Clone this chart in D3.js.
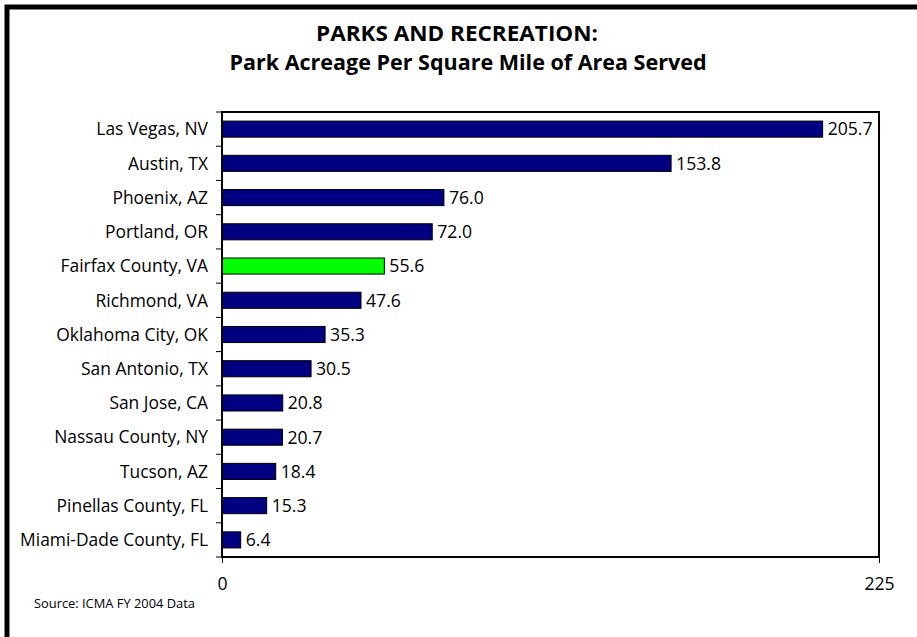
<!DOCTYPE html>
<html>
<head>
<meta charset="utf-8">
<script src="https://cdn.jsdelivr.net/npm/d3@7"></script>
<style>
  html, body { margin: 0; padding: 0; background: #fff; }
  svg { display: block; }
  text { font-family: "Open Sans", Lato, sans-serif; fill: #000; }
</style>
</head>
<body>
<script>
const categories = ["Las Vegas, NV", "Austin, TX", "Phoenix, AZ", "Portland, OR", "Fairfax County, VA", "Richmond, VA", "Oklahoma City, OK", "San Antonio, TX", "San Jose, CA", "Nassau County, NY", "Tucson, AZ", "Pinellas County, FL", "Miami-Dade County, FL"];
const values = [205.7, 153.8, 76.0, 72.0, 55.6, 47.6, 35.3, 30.5, 20.8, 20.7, 18.4, 15.3, 6.4];
const highlighted = ["Fairfax County, VA"];
const xTicks = [0, 225];
const titleLines = ["PARKS AND RECREATION:", "Park Acreage Per Square Mile of Area Served"];
const sourceNote = "Source: ICMA FY 2004 Data";

const W = 917, H = 637;
const svg = d3.select("body").append("svg").attr("width", W).attr("height", H);

// find a font size so that a sample string has the target width
function fitSize(str, target, weight) {
  const t = svg.append("text").attr("font-size", 100).attr("font-weight", weight || "normal").text(str);
  const w = t.node().getComputedTextLength();
  t.remove();
  return 100 * target / w;
}
const labelSize = fitSize("Miami-Dade County, FL", 188);
const valSize = fitSize("205.7", 45);
const srcSize = fitSize(sourceNote, 161);
const titleSize = fitSize(titleLines[1], 477, "bold");

// outer frame (clipped at right / bottom)
svg.append("rect").attr("x", 7).attr("y", 7).attr("width", W + 20).attr("height", H + 20)
  .attr("fill", "none").attr("stroke", "#000").attr("stroke-width", 5);

const m = { left: 222, right: 879, top: 112, bottom: 557 };
const x = d3.scaleLinear().domain([0, 225]).range([m.left, m.right]);
const y = d3.scaleBand().domain(categories).range([m.top, m.bottom]).paddingInner(0.53).paddingOuter(0.265);

// title
svg.append("text").attr("x", 457).attr("y", 41).attr("text-anchor", "middle")
  .attr("font-weight", "bold").attr("font-size", titleSize)
  .attr("textLength", 282).attr("lengthAdjust", "spacingAndGlyphs").text(titleLines[0]);
svg.append("text").attr("x", 468).attr("y", 70).attr("text-anchor", "middle")
  .attr("font-weight", "bold").attr("font-size", titleSize)
  .attr("textLength", 477).attr("lengthAdjust", "spacingAndGlyphs").text(titleLines[1]);

// bars
svg.selectAll("rect.bar").data(categories).join("rect").attr("class", "bar")
  .attr("x", x(0)).attr("y", d => y(d))
  .attr("width", (d, i) => x(values[i]) - x(0)).attr("height", y.bandwidth())
  .attr("fill", d => highlighted.includes(d) ? "#00ff00" : "#000080")
  .attr("stroke", "#000").attr("stroke-width", 1);

// value labels
svg.selectAll("text.val").data(categories).join("text").attr("class", "val")
  .attr("x", (d, i) => x(values[i]) + 5).attr("y", d => y(d) + y.bandwidth() / 2)
  .attr("dy", "0.36em").attr("font-size", valSize).text((d, i) => values[i].toFixed(1));

// plot box
svg.append("rect").attr("x", m.left).attr("y", m.top).attr("width", m.right - m.left).attr("height", m.bottom - m.top)
  .attr("fill", "none").attr("stroke", "#000").attr("stroke-width", 2);

// y axis ticks at category boundaries
const yBoundaries = d3.range(categories.length + 1).map(i => m.top + i * (m.bottom - m.top) / categories.length);
svg.selectAll("line.ytick").data(yBoundaries).join("line").attr("class", "ytick")
  .attr("x1", m.left - 6).attr("x2", m.left).attr("y1", d => d).attr("y2", d => d)
  .attr("stroke", "#000").attr("stroke-width", 1);

// category labels
svg.selectAll("text.cat").data(categories).join("text").attr("class", "cat")
  .attr("x", m.left - 14).attr("y", d => y(d) + y.bandwidth() / 2).attr("dy", "0.36em")
  .attr("text-anchor", "end").attr("font-size", labelSize).text(d => d);

// x axis
const xAxis = svg.append("g").attr("transform", `translate(0,${m.bottom})`)
  .call(d3.axisBottom(x).tickValues(xTicks).tickSize(6).tickPadding(14).tickFormat(d3.format("d")));
xAxis.select(".domain").remove();
xAxis.selectAll("text").attr("font-size", valSize).attr("font-family", "'Open Sans', sans-serif");
xAxis.selectAll("line").attr("stroke", "#000");

// source
svg.append("text").attr("x", 34).attr("y", 608).attr("font-size", srcSize).text(sourceNote);
</script>
</body>
</html>
